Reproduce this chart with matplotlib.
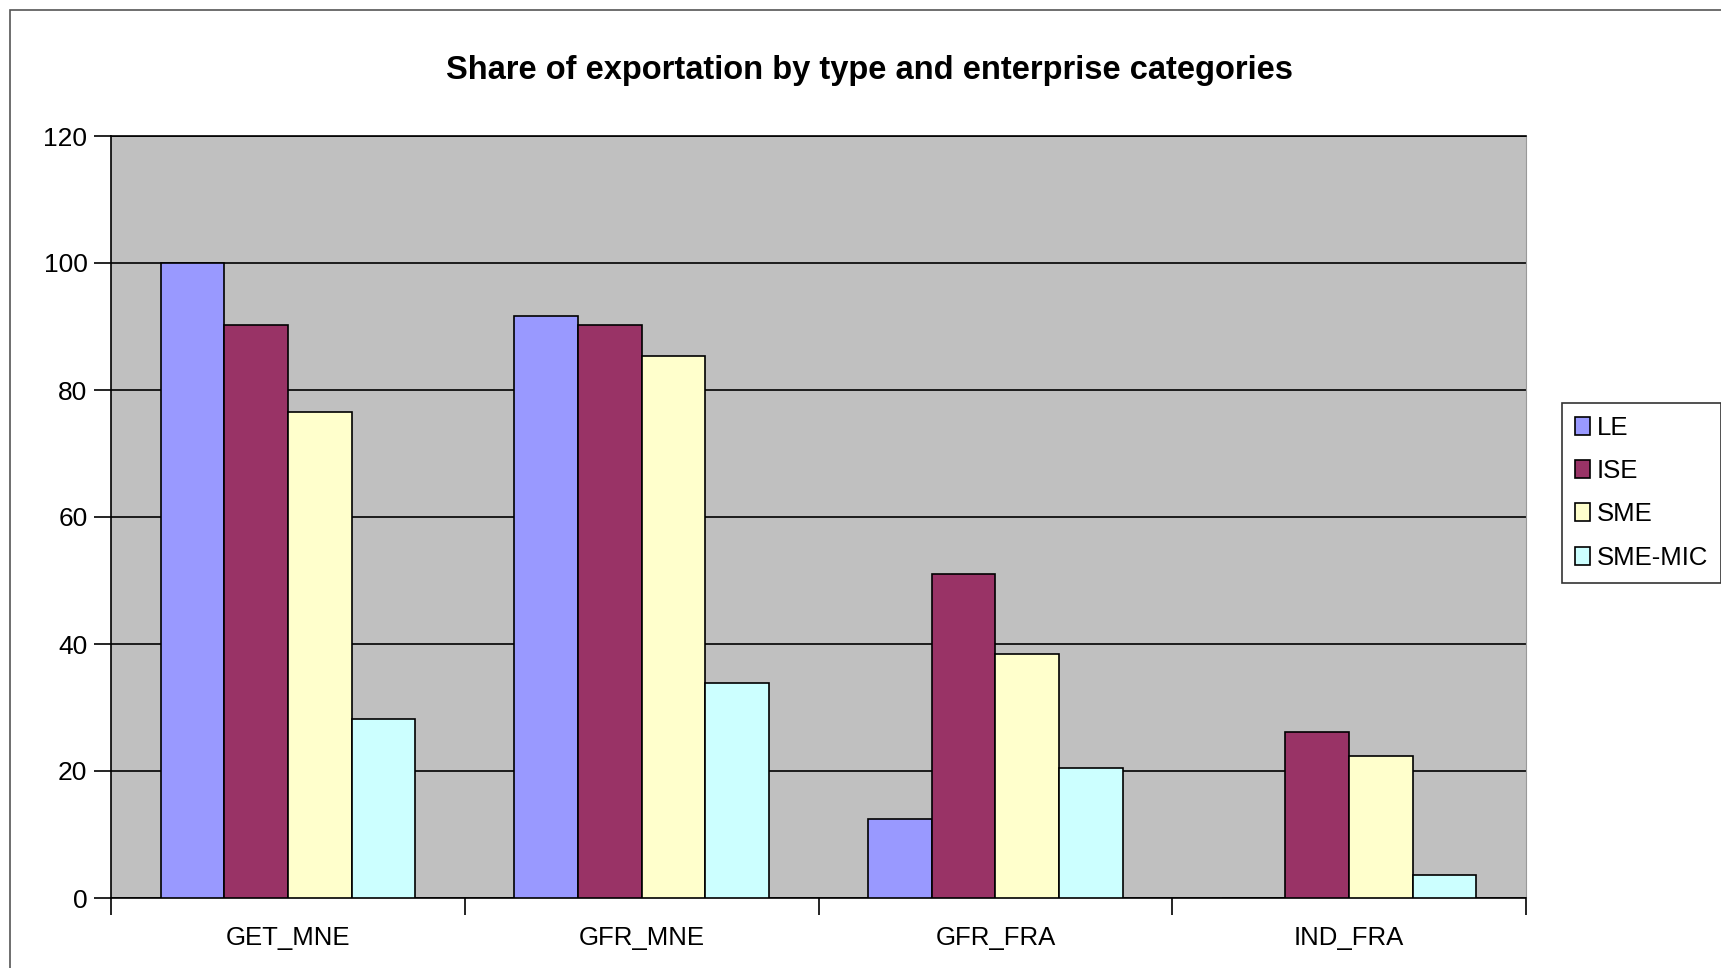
import matplotlib.pyplot as plt
import matplotlib.patches as mpatches
import numpy as np

plt.rcParams['font.family'] = ['Liberation Sans', 'DejaVu Sans']

categories = ['GET_MNE', 'GFR_MNE', 'GFR_FRA', 'IND_FRA']
series = ['LE', 'ISE', 'SME', 'SME-MIC']
le = [100, 91.6, 12.5, 0]
ise = [90.3, 90.3, 51.0, 26.1]
sme = [76.6, 85.4, 38.4, 22.3]
sme_mic = [28.2, 33.9, 20.4, 3.6]
colors = ['#9999FF', '#993366', '#FFFFCC', '#CCFFFF']

W, H = 1721, 968
fig = plt.figure(figsize=(W / 100, H / 100), dpi=100)
ax = fig.add_axes([111 / W, 1 - 898 / H, (1526 - 111) / W, (898 - 136) / H])
ax.set_facecolor('#C0C0C0')

x = np.arange(len(categories))
bw = 0.18
for i, (vals, name) in enumerate(zip([le, ise, sme, sme_mic], series)):
    ax.bar(x + (i - 1.5) * bw, vals, width=bw, color=colors[i],
           edgecolor='black', linewidth=1.2, label=name, zorder=3)

ax.set_xlim(-0.5, 3.5)
ax.set_ylim(0, 120)
ax.set_yticks(np.arange(0, 121, 20))
ax.yaxis.grid(True, color='black', linewidth=1.2, zorder=1)
ax.set_axisbelow(True)
ax.set_xticks(x)
ax.set_xticklabels(categories)
ax.set_xticks(np.arange(-0.5, 3.6, 1), minor=True)
ax.tick_params(axis='x', which='major', length=0, pad=20, labelsize=18.5)
ax.tick_params(axis='x', which='minor', length=12, width=1.2, direction='out')
ax.tick_params(axis='y', length=12, width=1.2, direction='out', pad=5, labelsize=19)
for s in ['left', 'bottom', 'top']:
    ax.spines[s].set_color('black')
    ax.spines[s].set_linewidth(1.2)
ax.spines['right'].set_color('#999999')

fig.text(869 / W, 1 - 70 / H, 'Share of exportation by type and enterprise categories',
         ha='center', va='center', fontsize=23.5, fontweight='bold')

handles = [mpatches.Patch(facecolor=c, edgecolor='black', linewidth=1.2) for c in colors]
leg = fig.legend(handles, series, loc='upper left', bbox_to_anchor=(1562 / W, 1 - 403 / H),
                 fontsize=18.5, frameon=True, fancybox=False, handlelength=0.6,
                 handleheight=0.7, handletextpad=0.25, labelspacing=0.75,
                 borderpad=0.5, borderaxespad=0)
leg.get_frame().set_edgecolor('black')
leg.get_frame().set_linewidth(1.2)

fig.patches.append(mpatches.Rectangle((10 / W, -0.1), 1.2, 1 - 10 / H + 0.1,
                                      transform=fig.transFigure, fill=False,
                                      edgecolor='#555555', linewidth=1.2))

fig.savefig('out.png', dpi=100)
